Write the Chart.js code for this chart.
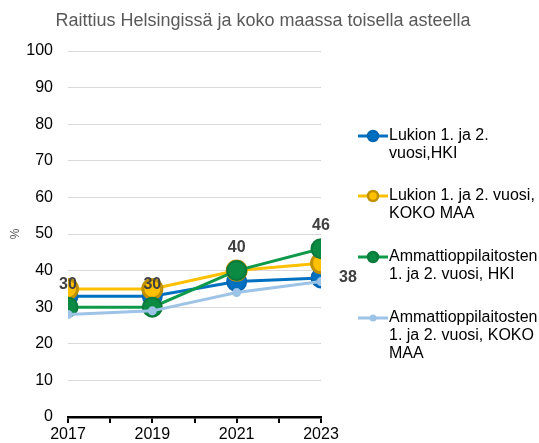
<!DOCTYPE html>
<html>
<head>
<meta charset="utf-8">
<script src="https://cdn.jsdelivr.net/npm/chart.js@4"></script>
<style>
  body { margin: 0; background: #fff; }
  #wrap { width: 539px; height: 443px; }
</style>
</head>
<body>
<div id="wrap"><canvas id="chart" width="539" height="443"></canvas></div>
<script>
const chartTitle = "Raittius Helsingissä ja koko maassa toisella asteella";
const years = [2017, 2019, 2021, 2023];
const lukioHki = [33, 33, 37, 38];
const lukioKoko = [35, 35, 40, 42];
const ammattiHki = [30, 30, 40, 46];
const ammattiKoko = [28, 29, 34, 37];
const yTicks = [0, 10, 20, 30, 40, 50, 60, 70, 80, 90, 100];
const legendLines = [
  ["Lukion 1. ja 2.", "vuosi,HKI"],
  ["Lukion 1. ja 2. vuosi,", "KOKO MAA"],
  ["Ammattioppilaitosten", "1. ja 2. vuosi, HKI"],
  ["Ammattioppilaitosten", "1. ja 2. vuosi, KOKO", "MAA"]
];

const FONT = "'Liberation Sans', Arial, sans-serif";

function pts(vals) {
  return years.map((yr, i) => ({ x: yr, y: vals[i] }));
}

// title, value labels and the legend are drawn by hand
const extras = {
  id: "extras",
  afterDatasetsDraw(chart) {
    const ctx = chart.ctx;
    ctx.save();
    ctx.font = "bold 16px " + FONT;
    ctx.fillStyle = "#404040";
    ctx.textAlign = "center";
    ctx.textBaseline = "middle";
    chart.getDatasetMeta(2).data.forEach((p, i) => {
      ctx.fillText(String(ammattiHki[i]), p.x, p.y - 23);
    });
    const last = chart.getDatasetMeta(0).data[years.length - 1];
    ctx.fillText(String(lukioHki[years.length - 1]), last.x + 27, last.y);
    ctx.restore();
  },
  afterDraw(chart) {
    const ctx = chart.ctx;
    ctx.save();
    ctx.font = "18px " + FONT;
    ctx.fillStyle = "#595959";
    ctx.textAlign = "center";
    ctx.textBaseline = "middle";
    ctx.fillText(chartTitle, 263, 21);

    const rows = [136, 196, 257, 318];
    chart.data.datasets.forEach((ds, i) => {
      const y = rows[i];
      ctx.strokeStyle = ds.borderColor;
      ctx.lineWidth = 3;
      ctx.beginPath();
      ctx.moveTo(358, y);
      ctx.lineTo(388, y);
      ctx.stroke();
      ctx.beginPath();
      ctx.arc(373, y, i === 3 ? 3.5 : 5, 0, Math.PI * 2);
      ctx.fillStyle = ds.pointBackgroundColor;
      ctx.fill();
      if (ds.pointBorderWidth) {
        ctx.lineWidth = 2.5;
        ctx.strokeStyle = ds.pointBorderColor;
        ctx.stroke();
      }
      ctx.font = "16px " + FONT;
      ctx.fillStyle = "#000";
      ctx.textAlign = "left";
      legendLines[i].forEach((t, j) => ctx.fillText(t, 389, y + j * 18));
    });
    ctx.restore();
  }
};

new Chart(document.getElementById("chart"), {
  type: "line",
  data: {
    datasets: [
      {
        label: legendLines[0].join(" "),
        data: pts(lukioHki),
        borderColor: "#0070C0",
        pointBackgroundColor: "#0070C0",
        pointBorderColor: "#0066B3",
        pointBorderWidth: 2,
        pointRadius: 9.5,
        borderWidth: 3,
        order: 4
      },
      {
        label: legendLines[1].join(" "),
        data: pts(lukioKoko),
        borderColor: "#FFC000",
        pointBackgroundColor: "#FFC000",
        pointBorderColor: "#BF9000",
        pointBorderWidth: 3,
        pointRadius: 9.5,
        borderWidth: 3,
        order: 3
      },
      {
        label: legendLines[2].join(" "),
        data: pts(ammattiHki),
        borderColor: "#0E9A48",
        pointBackgroundColor: "#0B8A44",
        pointBorderColor: "#0A7A3C",
        pointBorderWidth: 2,
        pointRadius: 9.5,
        borderWidth: 3,
        order: 2
      },
      {
        label: legendLines[3].join(" "),
        data: pts(ammattiKoko),
        borderColor: "#9DC3E6",
        pointBackgroundColor: "#9DC3E6",
        pointBorderColor: "#9DC3E6",
        pointBorderWidth: 0,
        pointRadius: 4.5,
        borderWidth: 3,
        order: 1
      }
    ]
  },
  options: {
    responsive: false,
    animation: false,
    layout: { padding: { top: 51, right: 218, left: 0, bottom: 0 } },
    plugins: {
      legend: { display: false },
      title: { display: false },
      tooltip: { enabled: false }
    },
    scales: {
      x: {
        type: "linear",
        min: 2017,
        max: 2023,
        afterFit: s => { s.height = 26; },
        ticks: {
          stepSize: 1,
          autoSkip: false,
          maxRotation: 0,
          padding: 2,
          color: "#000",
          font: { family: FONT, size: 16 },
          callback: v => (v % 2 ? String(v) : "")
        },
        grid: { drawOnChartArea: false, drawTicks: true, tickLength: 6, color: "#000", lineWidth: 2 },
        border: { color: "#000", width: 2.5 }
      },
      y: {
        min: 0,
        max: 100,
        afterFit: s => { s.width = 68; },
        afterBuildTicks: s => { s.ticks = yTicks.map(v => ({ value: v })); },
        ticks: {
          padding: 15,
          color: "#000",
          font: { family: FONT, size: 16 }
        },
        grid: { color: "#D9D9D9", lineWidth: 1, drawTicks: false },
        border: { display: false },
        title: {
          display: true,
          text: "%",
          color: "#595959",
          font: { family: FONT, size: 12 },
          padding: { top: 8, bottom: 0 }
        }
      }
    }
  },
  plugins: [extras]
});
</script>
</body>
</html>
